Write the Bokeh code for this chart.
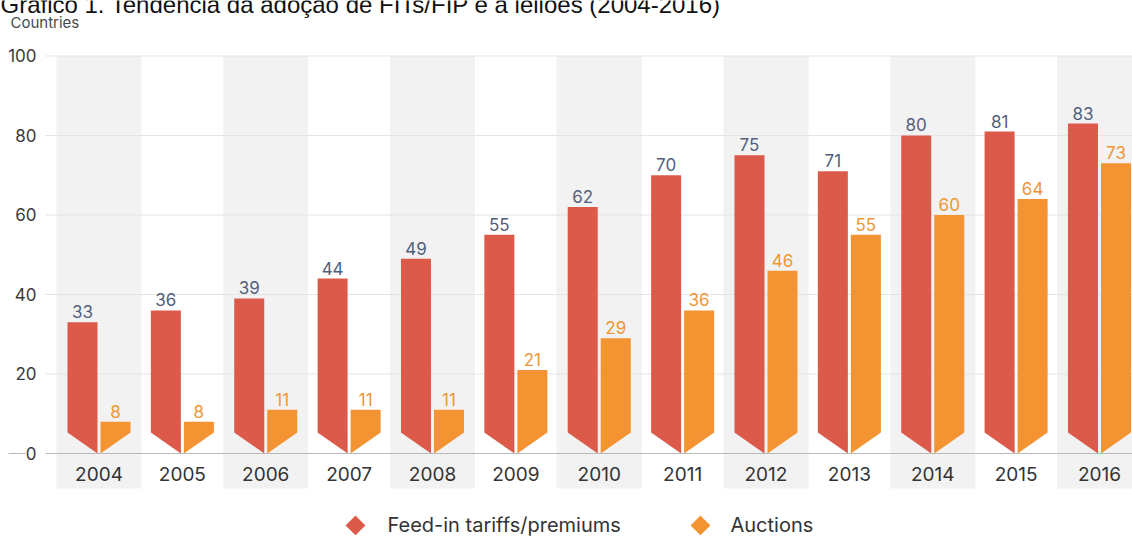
import math
from bokeh.plotting import figure
from bokeh.models import Range1d, LinearAxis, FixedTicker, Label
from bokeh.core.properties import value
from bokeh.embed import file_html
from bokeh.resources import INLINE

# ---------------- data ----------------
years = [2004, 2005, 2006, 2007, 2008, 2009, 2010, 2011, 2012, 2013, 2014, 2015, 2016]
fit_premiums = [33, 36, 39, 44, 49, 55, 62, 70, 75, 71, 80, 81, 83]
auctions = [8, 8, 11, 11, 11, 21, 29, 36, 46, 55, 60, 64, 73]
y_ticks = [0, 20, 40, 60, 80, 100]
title_text = "Gráfico 1. Tendência da adoção de FITs/FIP e a leilões (2004-2016)"
y_unit_text = "Countries"
series_names = ["Feed-in tariffs/premiums", "Auctions"]

# ---------------- style / layout ----------------
RED = "#db5a4a"
ORANGE = "#f39331"
FIT_TEXT = "#52607c"
AUC_TEXT = "#ee9637"
BAND = "#f2f2f2"
GRID = "#e4e4e4"
ZERO = "#b9b9b9"
FONT = "Inter"

W, H = 1132, 539
X_START, X_END = -1.1814, 12.396
Y_START, Y_END = -21.64, 113.96
GRID_X0 = -0.6417         # where gridlines begin
DASH_X = (-1.0855, -0.8816)
BAND_BOTTOM = -8.8
BAND_TOP = 100
BAR_IN, BAR_OUT = 0.018, 0.378
NOTCH = 5.3
# legend placement (data coordinates of the key row)
LEG_Y = -18.1
LEG_MARK_X = [3.0765, 7.214]
LEG_TEXT_X = [3.460, 7.574]

p = figure(width=W, height=H, output_backend="svg", toolbar_location=None,
           x_range=Range1d(X_START, X_END), y_range=Range1d(Y_START, Y_END),
           x_axis_type=None, y_axis_type=None,
           min_border_left=0, min_border_right=0, min_border_top=0, min_border_bottom=0)
p.outline_line_color = None
p.background_fill_color = "white"
p.border_fill_color = "white"

idx = list(range(len(years)))

# alternating gray bands
band_x = [i for i in idx if i % 2 == 0]
p.vbar(x=band_x, width=1.02, top=BAND_TOP, bottom=BAND_BOTTOM,
       fill_color=BAND, line_color=None)

# gridlines
grid_y = [t for t in y_ticks if t > 0]
p.segment(x0=[GRID_X0] * len(grid_y), x1=[X_END] * len(grid_y), y0=grid_y, y1=grid_y,
          line_color=GRID, line_width=1)
# small dash left of the "0" label
p.segment(x0=[DASH_X[0]], x1=[DASH_X[1]], y0=[0], y1=[0], line_color=ZERO, line_width=1)

# bars with notched bottoms
red_xs = [[i - BAR_OUT, i - BAR_IN, i - BAR_IN, i - BAR_OUT] for i in idx]
red_ys = [[v, v, 0, NOTCH] for v in fit_premiums]
org_xs = [[i + BAR_IN, i + BAR_OUT, i + BAR_OUT, i + BAR_IN] for i in idx]
org_ys = [[v, v, min(NOTCH, v), 0] for v in auctions]
p.patches(xs=red_xs, ys=red_ys, fill_color=RED, line_color=None)
p.patches(xs=org_xs, ys=org_ys, fill_color=ORANGE, line_color=None)

# value labels
p.text(x=[i - 0.198 for i in idx], y=fit_premiums, text=[str(v) for v in fit_premiums],
       text_align="center", text_baseline="bottom", y_offset=-4,
       text_font=value(FONT), text_font_size="17px", text_color=FIT_TEXT)
p.text(x=[i + 0.198 for i in idx], y=auctions, text=[str(v) for v in auctions],
       text_align="center", text_baseline="bottom", y_offset=-4,
       text_font=value(FONT), text_font_size="17px", text_color=AUC_TEXT)

# axes
xaxis = LinearAxis(fixed_location=0, ticker=FixedTicker(ticks=idx),
                   major_label_overrides={i: str(y) for i, y in zip(idx, years)},
                   bounds=(GRID_X0, X_END))
xaxis.axis_line_color = ZERO
xaxis.major_tick_line_color = None
xaxis.minor_tick_line_color = None
xaxis.major_label_standoff = 8
xaxis.major_label_text_font = FONT
xaxis.major_label_text_font_size = "19px"
xaxis.major_label_text_color = "#333333"
p.add_layout(xaxis, "below")

yaxis = LinearAxis(fixed_location=GRID_X0, ticker=FixedTicker(ticks=y_ticks))
yaxis.axis_line_color = None
yaxis.major_tick_line_color = None
yaxis.minor_tick_line_color = None
yaxis.major_label_standoff = 3
yaxis.major_label_text_font = FONT
yaxis.major_label_text_font_size = "17px"
yaxis.major_label_text_color = "#3a3a3a"
p.add_layout(yaxis, "left")

# cropped title and unit label
p.add_layout(Label(x=0, y=H - 4, x_units="screen", y_units="screen", text=title_text,
                   text_font="Liberation Sans", text_font_size="24px",
                   text_color="#111111", text_baseline="alphabetic"))
p.add_layout(Label(x=10, y=H - 22, x_units="screen", y_units="screen", text=y_unit_text,
                   text_font=FONT, text_font_size="15px",
                   text_color="#4a4a4a", text_baseline="alphabetic"))

# legend key: rotated squares (diamonds) + labels
p.scatter(x=LEG_MARK_X, y=[LEG_Y, LEG_Y], marker="square", angle=math.pi / 4, size=14,
          fill_color=[RED, ORANGE], line_color=None)
p.text(x=LEG_TEXT_X, y=[LEG_Y, LEG_Y], text=series_names, text_align="left",
       text_baseline="middle", text_font=value(FONT), text_font_size="20px",
       text_color="#333333")

open("out.html", "w").write(file_html(p, INLINE))
